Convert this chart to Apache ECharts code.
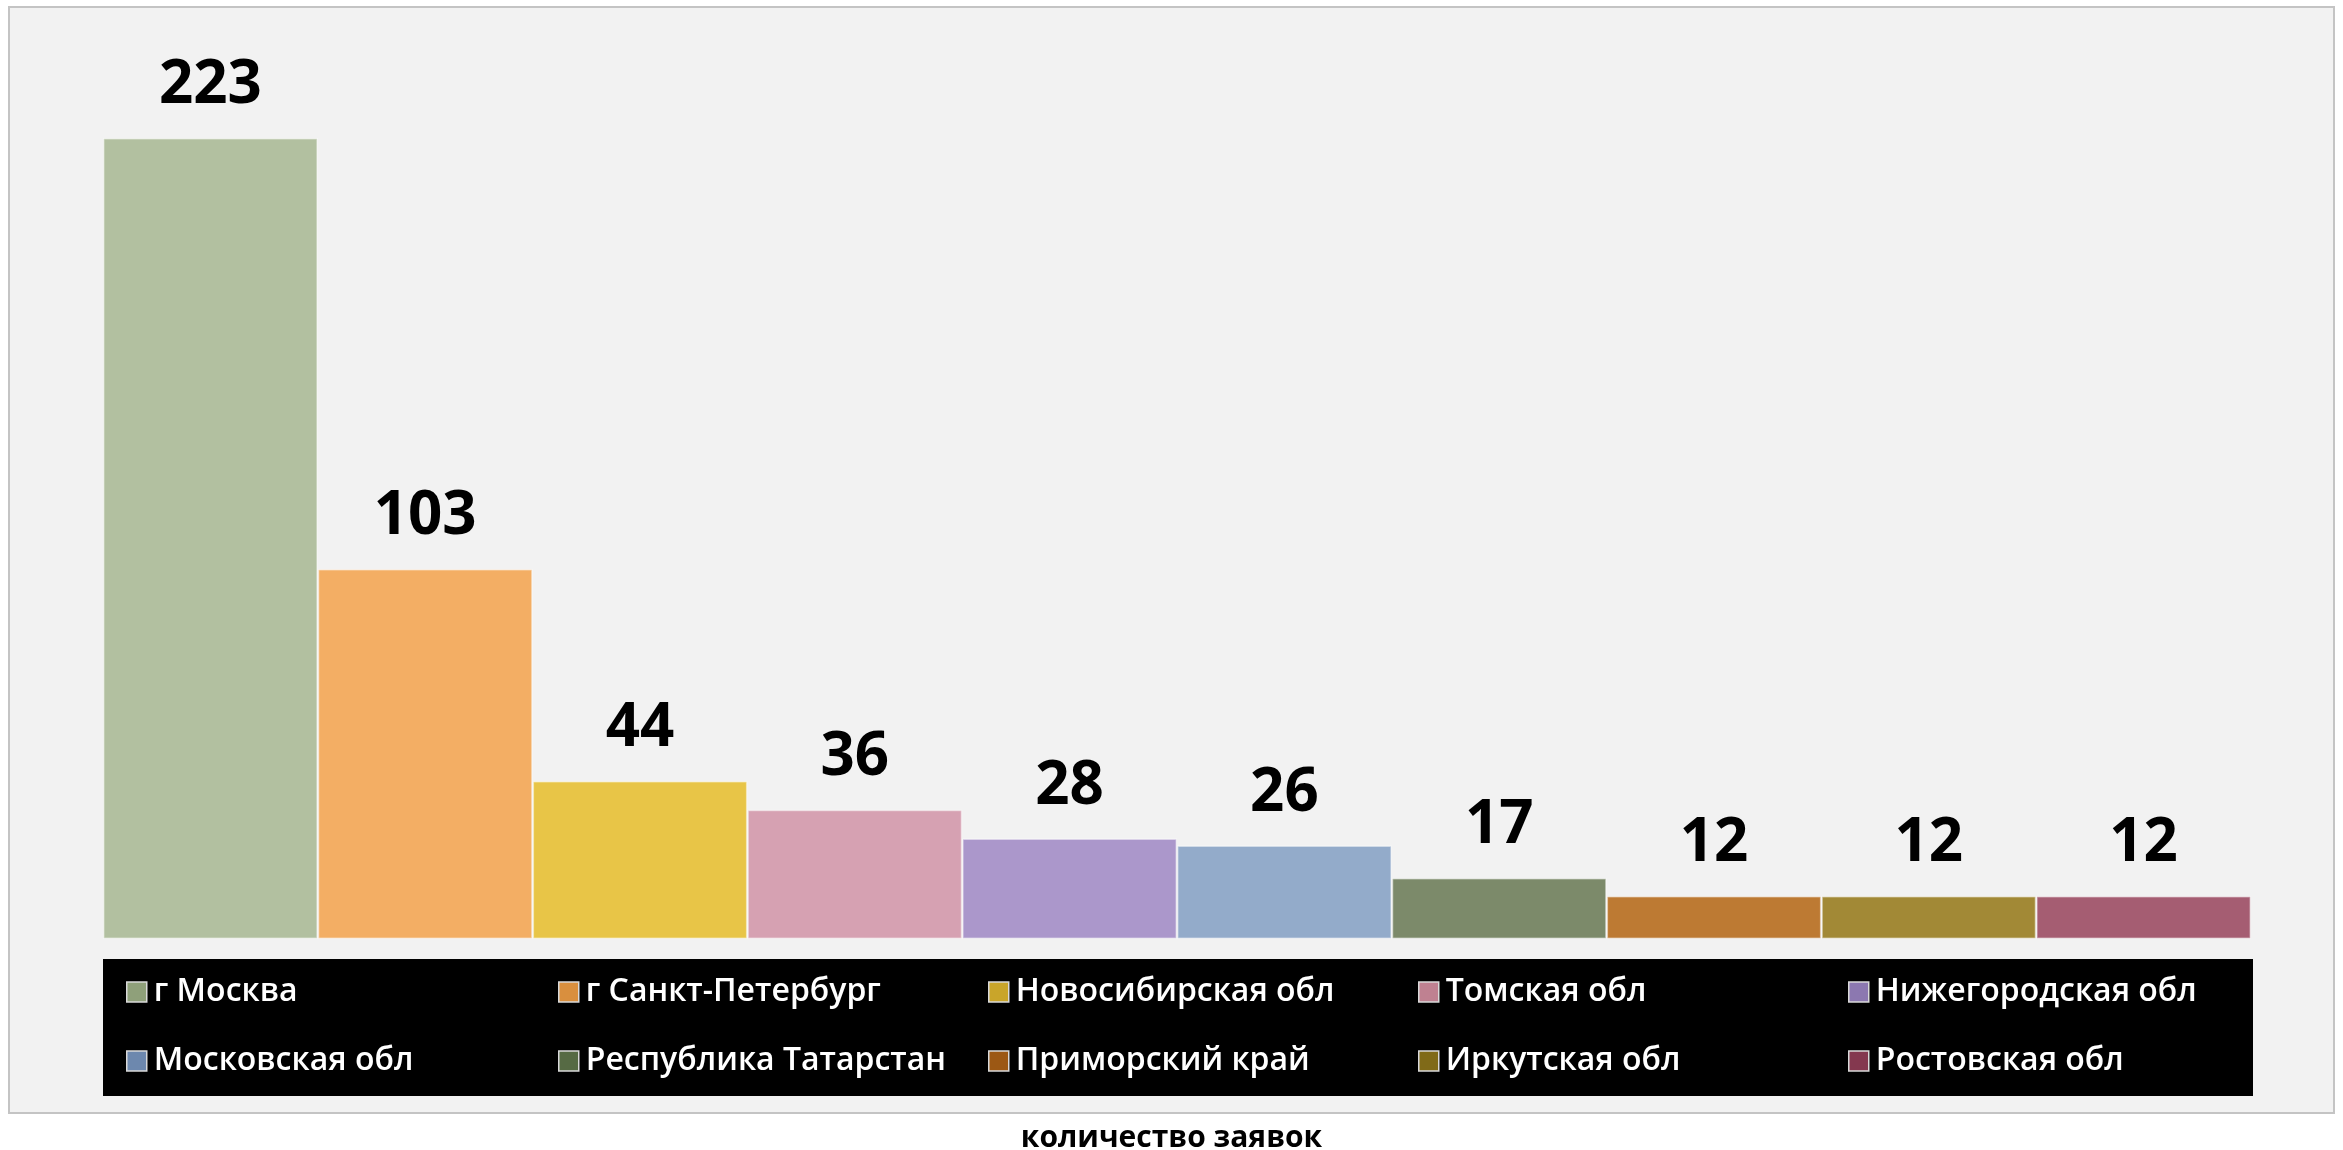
<!DOCTYPE html>
<html>
<head>
<meta charset="utf-8">
<script src="https://cdn.jsdelivr.net/npm/echarts@6/dist/echarts.min.js"></script>
<style>
    html, body { margin: 0; padding: 0; background: #fff; }
    #chart { width: 2343px; height: 1150px; }
</style>
</head>
<body>
<div id="chart"></div>
<script>
var regions = [
    "г Москва",
    "г Санкт-Петербург",
    "Новосибирская обл",
    "Томская обл",
    "Нижегородская обл",
    "Московская обл",
    "Республика Татарстан",
    "Приморский край",
    "Иркутская обл",
    "Ростовская обл",
];
var requests = [223, 103, 44, 36, 28, 26, 17, 12, 12, 12];

var barColors = ["#b2c0a0", "#f3ae64", "#e8c547", "#d6a1b2", "#ab97cb", "#93abca", "#7c8a6a", "#bd7a33", "#a28936", "#a55d72"];
var iconColors = ["#8fa07a", "#d98f3e", "#c9a52a", "#bf8191", "#8c78b0", "#6d88ae", "#566a44", "#9c5814", "#806a18", "#84384f"];

var chartDom = document.getElementById("chart");
var myChart = echarts.init(chartDom);

var series = regions.map(function (name, i) {
    return {
        name: name,
        type: "bar",
        barWidth: "100%",
        barGap: "-100%",
        itemStyle: {
            color: barColors[i],
            borderColor: "rgba(255,255,255,0.45)",
            borderWidth: 1.5,
        },
        label: {
            show: true,
            position: "top",
            distance: 22,
            color: "#000",
            fontFamily: "Open Sans",
            fontWeight: "bold",
            fontSize: 60,
        },
        data: requests.map(function (v, j) {
            return j === i ? v : "-";
        }),
    };
});

// 5 columns, 2 rows
var colLeft = [126, 558, 988, 1418, 1848];
var legends = colLeft.map(function (x, c) {
    return {
        orient: "vertical",
        left: x,
        top: 976,
        itemWidth: 20,
        itemHeight: 20,
        itemGap: 37,
        padding: 0,
        icon: "rect",
        selectedMode: false,
        textStyle: {
            color: "#fff",
            fontFamily: "Open Sans",
            fontWeight: 600,
            fontSize: 32,
            padding: [0, 0, 0, 2],
        },
        data: [c, c + 5].map(function (k) {
            return {
                name: regions[k],
                itemStyle: {
                    color: iconColors[k],
                    borderColor: "#d9d9d9",
                    borderWidth: 1.5,
                },
            };
        }),
    };
});

var option = {
    animation: false,
    graphic: [
        {
            type: "rect",
            z: -10,
            shape: { x: 9, y: 7, width: 2325, height: 1106 },
            style: { fill: "#f2f2f2", stroke: "#c4c4c4", lineWidth: 2 },
        },
        {
            type: "rect",
            z: -5,
            shape: { x: 103, y: 959, width: 2150, height: 137 },
            style: { fill: "#000" },
        },
    ],
    title: {
        text: "количество заявок",
        left: "center",
        top: 1118,
        textStyle: {
            color: "#000",
            fontFamily: "Open Sans",
            fontWeight: "bold",
            fontSize: 30,
        },
    },
    legend: legends,
    grid: {
        left: 103,
        right: 92,
        top: 77,
        bottom: 211,
    },
    xAxis: {
        type: "category",
        data: regions,
        show: false,
    },
    yAxis: {
        type: "value",
        min: 0,
        max: 240,
        show: false,
    },
    series: series,
};

option && myChart.setOption(option);
</script>
</body>
</html>
